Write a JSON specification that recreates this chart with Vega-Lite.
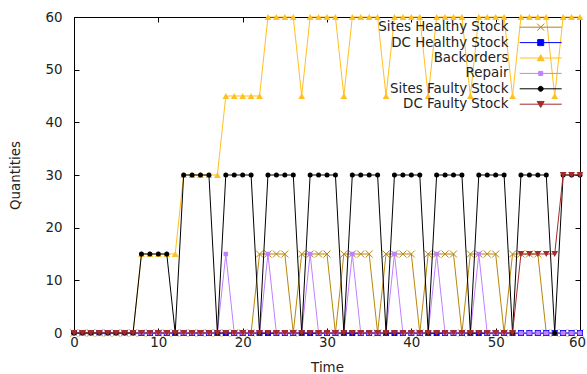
{
  "$schema": "https://vega.github.io/schema/vega-lite/v6.json",
  "width": 506,
  "height": 316,
  "autosize": "none",
  "padding": {"left": 74, "top": 17, "right": 7, "bottom": 41},
  "background": "white",
  "config": {
    "font": "DejaVu Sans",
    "view": {"stroke": "black", "strokeWidth": 1},
    "axis": {
      "grid": false,
      "domainColor": "black",
      "tickColor": "black",
      "tickSize": -5,
      "labelFlush": false,
      "labelColor": "#222",
      "titleColor": "#222",
      "labelFontSize": 13.4,
      "titleFontSize": 13.4,
      "titleFontWeight": "normal"
    },
    "legend": {
      "orient": "none",
      "legendX": 460,
      "legendY": 3.5,
      "padding": 0,
      "symbolSize": 100,
      "symbolStrokeWidth": 1,
      "labelAlign": "right",
      "labelOffset": -39,
      "labelFontSize": 13.4,
      "labelColor": "#222",
      "labelLimit": 0,
      "rowPadding": 0.4
    }
  },
  "data": {
    "values": [
      {"t": 0, "sh": 0, "dch": 0, "bo": 0, "rep": 0, "sf": 0, "dcf": 0},
      {"t": 1, "sh": 0, "dch": 0, "bo": 0, "rep": 0, "sf": 0, "dcf": 0},
      {"t": 2, "sh": 0, "dch": 0, "bo": 0, "rep": 0, "sf": 0, "dcf": 0},
      {"t": 3, "sh": 0, "dch": 0, "bo": 0, "rep": 0, "sf": 0, "dcf": 0},
      {"t": 4, "sh": 0, "dch": 0, "bo": 0, "rep": 0, "sf": 0, "dcf": 0},
      {"t": 5, "sh": 0, "dch": 0, "bo": 0, "rep": 0, "sf": 0, "dcf": 0},
      {"t": 6, "sh": 0, "dch": 0, "bo": 0, "rep": 0, "sf": 0, "dcf": 0},
      {"t": 7, "sh": 0, "dch": 0, "bo": 0, "rep": 0, "sf": 0, "dcf": 0},
      {"t": 8, "sh": 0, "dch": 0, "bo": 15, "rep": 0, "sf": 15, "dcf": 0},
      {"t": 9, "sh": 0, "dch": 0, "bo": 15, "rep": 0, "sf": 15, "dcf": 0},
      {"t": 10, "sh": 0, "dch": 0, "bo": 15, "rep": 0, "sf": 15, "dcf": 0},
      {"t": 11, "sh": 0, "dch": 0, "bo": 15, "rep": 0, "sf": 15, "dcf": 0},
      {"t": 12, "sh": 0, "dch": 0, "bo": 15, "rep": 0, "sf": 0, "dcf": 0},
      {"t": 13, "sh": 0, "dch": 0, "bo": 30, "rep": 0, "sf": 30, "dcf": 0},
      {"t": 14, "sh": 0, "dch": 0, "bo": 30, "rep": 0, "sf": 30, "dcf": 0},
      {"t": 15, "sh": 0, "dch": 0, "bo": 30, "rep": 0, "sf": 30, "dcf": 0},
      {"t": 16, "sh": 0, "dch": 0, "bo": 30, "rep": 0, "sf": 30, "dcf": 0},
      {"t": 17, "sh": 0, "dch": 0, "bo": 30, "rep": 0, "sf": 0, "dcf": 0},
      {"t": 18, "sh": 0, "dch": 0, "bo": 45, "rep": 15, "sf": 30, "dcf": 0},
      {"t": 19, "sh": 0, "dch": 0, "bo": 45, "rep": 0, "sf": 30, "dcf": 0},
      {"t": 20, "sh": 0, "dch": 0, "bo": 45, "rep": 0, "sf": 30, "dcf": 0},
      {"t": 21, "sh": 0, "dch": 0, "bo": 45, "rep": 0, "sf": 30, "dcf": 0},
      {"t": 22, "sh": 15, "dch": 0, "bo": 45, "rep": 0, "sf": 0, "dcf": 0},
      {"t": 23, "sh": 15, "dch": 0, "bo": 60, "rep": 15, "sf": 30, "dcf": 0},
      {"t": 24, "sh": 15, "dch": 0, "bo": 60, "rep": 0, "sf": 30, "dcf": 0},
      {"t": 25, "sh": 15, "dch": 0, "bo": 60, "rep": 0, "sf": 30, "dcf": 0},
      {"t": 26, "sh": 0, "dch": 0, "bo": 60, "rep": 0, "sf": 30, "dcf": 0},
      {"t": 27, "sh": 15, "dch": 0, "bo": 45, "rep": 0, "sf": 0, "dcf": 0},
      {"t": 28, "sh": 15, "dch": 0, "bo": 60, "rep": 15, "sf": 30, "dcf": 0},
      {"t": 29, "sh": 15, "dch": 0, "bo": 60, "rep": 0, "sf": 30, "dcf": 0},
      {"t": 30, "sh": 15, "dch": 0, "bo": 60, "rep": 0, "sf": 30, "dcf": 0},
      {"t": 31, "sh": 0, "dch": 0, "bo": 60, "rep": 0, "sf": 30, "dcf": 0},
      {"t": 32, "sh": 15, "dch": 0, "bo": 45, "rep": 0, "sf": 0, "dcf": 0},
      {"t": 33, "sh": 15, "dch": 0, "bo": 60, "rep": 15, "sf": 30, "dcf": 0},
      {"t": 34, "sh": 15, "dch": 0, "bo": 60, "rep": 0, "sf": 30, "dcf": 0},
      {"t": 35, "sh": 15, "dch": 0, "bo": 60, "rep": 0, "sf": 30, "dcf": 0},
      {"t": 36, "sh": 0, "dch": 0, "bo": 60, "rep": 0, "sf": 30, "dcf": 0},
      {"t": 37, "sh": 15, "dch": 0, "bo": 45, "rep": 0, "sf": 0, "dcf": 0},
      {"t": 38, "sh": 15, "dch": 0, "bo": 60, "rep": 15, "sf": 30, "dcf": 0},
      {"t": 39, "sh": 15, "dch": 0, "bo": 60, "rep": 0, "sf": 30, "dcf": 0},
      {"t": 40, "sh": 15, "dch": 0, "bo": 60, "rep": 0, "sf": 30, "dcf": 0},
      {"t": 41, "sh": 0, "dch": 0, "bo": 60, "rep": 0, "sf": 30, "dcf": 0},
      {"t": 42, "sh": 15, "dch": 0, "bo": 45, "rep": 0, "sf": 0, "dcf": 0},
      {"t": 43, "sh": 15, "dch": 0, "bo": 60, "rep": 15, "sf": 30, "dcf": 0},
      {"t": 44, "sh": 15, "dch": 0, "bo": 60, "rep": 0, "sf": 30, "dcf": 0},
      {"t": 45, "sh": 15, "dch": 0, "bo": 60, "rep": 0, "sf": 30, "dcf": 0},
      {"t": 46, "sh": 0, "dch": 0, "bo": 60, "rep": 0, "sf": 30, "dcf": 0},
      {"t": 47, "sh": 15, "dch": 0, "bo": 45, "rep": 0, "sf": 0, "dcf": 0},
      {"t": 48, "sh": 15, "dch": 0, "bo": 60, "rep": 15, "sf": 30, "dcf": 0},
      {"t": 49, "sh": 15, "dch": 0, "bo": 60, "rep": 0, "sf": 30, "dcf": 0},
      {"t": 50, "sh": 15, "dch": 0, "bo": 60, "rep": 0, "sf": 30, "dcf": 0},
      {"t": 51, "sh": 0, "dch": 0, "bo": 60, "rep": 0, "sf": 30, "dcf": 0},
      {"t": 52, "sh": 15, "dch": 0, "bo": 45, "rep": 0, "sf": 0, "dcf": 0},
      {"t": 53, "sh": 15, "dch": 0, "bo": 60, "rep": 0, "sf": 30, "dcf": 15},
      {"t": 54, "sh": 15, "dch": 0, "bo": 60, "rep": 0, "sf": 30, "dcf": 15},
      {"t": 55, "sh": 15, "dch": 0, "bo": 60, "rep": 0, "sf": 30, "dcf": 15},
      {"t": 56, "sh": 0, "dch": 0, "bo": 60, "rep": 0, "sf": 30, "dcf": 15},
      {"t": 57, "sh": 0, "dch": 0, "bo": 45, "rep": 0, "sf": 0, "dcf": 15},
      {"t": 58, "sh": 0, "dch": 0, "bo": 60, "rep": 0, "sf": 30, "dcf": 30},
      {"t": 59, "sh": 0, "dch": 0, "bo": 60, "rep": 0, "sf": 30, "dcf": 30},
      {"t": 60, "sh": 0, "dch": 0, "bo": 60, "rep": 0, "sf": 30, "dcf": 30}
    ]
  },
  "transform": [{"fold": ["sh", "dch", "bo", "rep", "sf", "dcf"], "as": ["series", "q"]}],
  "encoding": {
    "x": {"field": "t", "type": "quantitative", "scale": {"domain": [0, 60], "nice": false, "zero": false}, "axis": null},
    "y": {"field": "q", "type": "quantitative", "scale": {"domain": [0, 60], "nice": false, "zero": false}, "axis": null}
  },
  "layer": [
    {
      "transform": [{"filter": "datum.series === 'sh'"}],
      "encoding": {
        "x": {"field": "t", "type": "quantitative", "scale": {"domain": [0, 60], "nice": false, "zero": false},
              "axis": {"orient": "bottom", "values": [0, 10, 20, 30, 40, 50, 60], "title": "Time", "labelPadding": 7, "titlePadding": 12,
                       "labelOffset": {"condition": {"test": "datum.value == 60", "value": -3}, "value": 0}}},
        "y": {"field": "q", "type": "quantitative", "scale": {"domain": [0, 60], "nice": false, "zero": false},
              "axis": {"orient": "left", "values": [0, 10, 20, 30, 40, 50, 60], "title": "Quantities", "labelPadding": 17, "titlePadding": 22}}
      },
      "layer": [
        {"mark": {"type": "line", "color": "#b8860b", "strokeWidth": 1}},
        {"mark": {"type": "point", "shape": "M-1,-1L1,1M-1,1L1,-1", "filled": false, "color": "#b8860b", "size": 49, "strokeWidth": 1, "opacity": 1}}
      ]
    },
    {
      "transform": [{"filter": "datum.series === 'dch'"}],
      "encoding": {
        "x": {"field": "t", "type": "quantitative", "scale": {"domain": [0, 60], "nice": false, "zero": false},
              "axis": {"orient": "top", "values": [0, 10, 20, 30, 40, 50, 60], "labels": false, "title": null}},
        "y": {"field": "q", "type": "quantitative", "scale": {"domain": [0, 60], "nice": false, "zero": false},
              "axis": {"orient": "right", "values": [0, 10, 20, 30, 40, 50, 60], "labels": false, "title": null}}
      },
      "layer": [
        {"mark": {"type": "line", "color": "#0000ff", "strokeWidth": 1}},
        {"mark": {"type": "point", "shape": "square", "filled": true, "color": "#0000ff", "size": 36, "opacity": 1}}
      ]
    },
    {
      "transform": [{"filter": "datum.series === 'bo'"}],
      "layer": [
        {"mark": {"type": "line", "color": "#ffc020", "strokeWidth": 1}},
        {"mark": {"type": "point", "shape": "triangle-up", "filled": true, "color": "#ffc020", "size": 45, "opacity": 1}}
      ]
    },
    {
      "transform": [{"filter": "datum.series === 'rep'"}],
      "layer": [
        {"mark": {"type": "line", "color": "#c080ff", "strokeWidth": 1}},
        {"mark": {"type": "point", "shape": "square", "filled": true, "color": "#c080ff", "size": 20, "opacity": 1}}
      ]
    },
    {
      "transform": [{"filter": "datum.series === 'sf'"}],
      "layer": [
        {"mark": {"type": "line", "color": "#000000", "strokeWidth": 1}},
        {"mark": {"type": "point", "shape": "circle", "filled": true, "color": "#000000", "size": 25, "opacity": 1}}
      ]
    },
    {
      "transform": [{"filter": "datum.series === 'dcf'"}],
      "layer": [
        {"mark": {"type": "line", "color": "#a52a2a", "strokeWidth": 1}},
        {"mark": {"type": "point", "shape": "triangle-down", "filled": true, "color": "#a52a2a", "size": 45, "opacity": 1}}
      ]
    },
    {
      "transform": [{"filter": "false"}],
      "mark": {"type": "point", "filled": true, "size": 100, "opacity": 1},
      "encoding": {
        "shape": {"field": "series", "type": "nominal",
          "scale": {"domain": ["Sites Healthy Stock", "DC Healthy Stock", "Backorders", "Repair", "Sites Faulty Stock", "DC Faulty Stock"],
                    "range": ["M-4.2,0H4.2M-0.7,-0.7L0.7,0.7M-0.7,0.7L0.7,-0.7",
                              "M-4.2,0H4.2M-0.6,-0.6H0.6V0.6H-0.6Z",
                              "M-4.2,0H4.2M0,-0.65L0.7,0.55L-0.7,0.55Z",
                              "M-4.2,0H4.2M-0.4,-0.4H0.4V0.4H-0.4Z",
                              "M-4.2,0H4.2M-0.5,0A0.5,0.5 0 1,0 0.5,0A0.5,0.5 0 1,0 -0.5,0Z",
                              "M-4.2,0H4.2M0,0.65L0.7,-0.55L-0.7,-0.55Z"]},
          "legend": {"title": null}},
        "fill": {"field": "series", "type": "nominal",
          "scale": {"domain": ["Sites Healthy Stock", "DC Healthy Stock", "Backorders", "Repair", "Sites Faulty Stock", "DC Faulty Stock"],
                    "range": ["#b8860b", "#0000ff", "#ffc020", "#c080ff", "#000000", "#a52a2a"]},
          "legend": {"title": null}},
        "stroke": {"field": "series", "type": "nominal",
          "scale": {"domain": ["Sites Healthy Stock", "DC Healthy Stock", "Backorders", "Repair", "Sites Faulty Stock", "DC Faulty Stock"],
                    "range": ["#b8860b", "#0000ff", "#ffc020", "#c080ff", "#000000", "#a52a2a"]},
          "legend": {"title": null}}
      }
    }
  ],
  "resolve": {"axis": {"x": "independent", "y": "independent"}}
}
